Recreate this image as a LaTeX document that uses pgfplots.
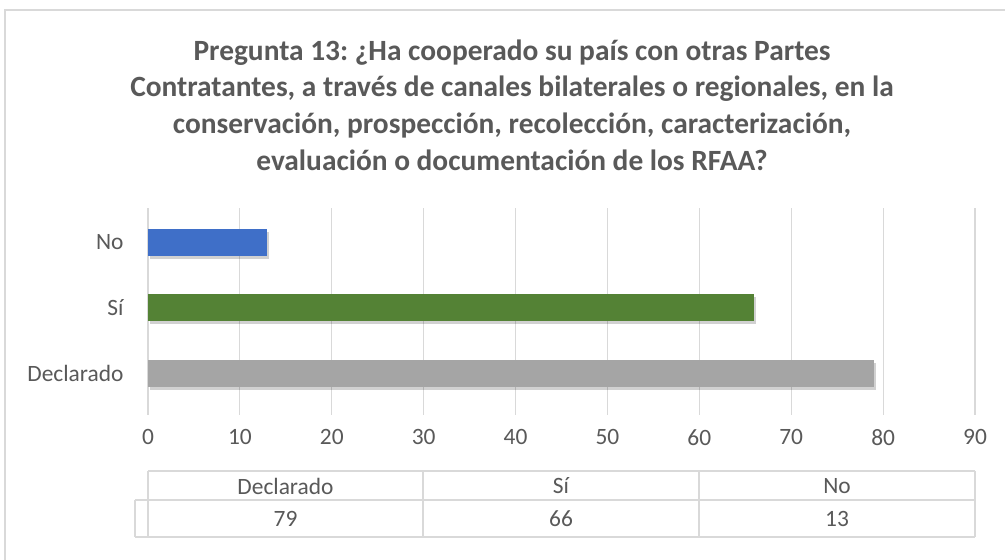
\documentclass[border=0pt]{standalone}
\usepackage{pgfplots}
\pgfplotsset{compat=1.18}
\usepackage{fontspec}
\setmainfont{Carlito}
\frenchspacing
\definecolor{txt}{HTML}{595959}
\definecolor{gridc}{HTML}{D9D9D9}
\definecolor{framec}{HTML}{D9D9D9}
\definecolor{cblue}{HTML}{3F6FC8}
\definecolor{cgreen}{HTML}{548235}
\definecolor{cgray}{HTML}{A5A5A5}
\begin{document}
\begin{tikzpicture}
\useasboundingbox (0bp,0bp) rectangle (1005bp,560bp);
\fill[white] (0bp,0bp) rectangle (1005bp,560bp);
\draw[framec, line width=1.5bp] (5bp,0bp) -- (5bp,550bp) -- (1005bp,550bp);
\node[font=\fontsize{29.5}{36.7}\selectfont\bfseries, text=txt, align=center] at (512bp,455bp)
 {Pregunta 13: ¿Ha cooperado su país con otras Partes\\
  Contratantes, a través de canales bilaterales o regionales, en la\\
  conservación, prospección, recolección, caracterización,\\
  evaluación o documentación de los RFAA?};
\begin{axis}[
  at={(148bp,145bp)}, anchor=south west,
  scale only axis, width=827bp, height=207bp,
  xmin=0, xmax=90, ymin=-0.64, ymax=2.52,
  xbar, bar width=27bp,
  xtick={0,10,...,90},
  ytick={0,1,2}, yticklabels={Declarado,Sí,No},
  xmajorgrids, grid style={draw=gridc, line width=1.2bp},
  axis line style={draw=none},
  major tick length=0pt,
  tick label style={font=\fontsize{23.5}{28}\selectfont, text=txt},
  /pgf/number format/assume math mode=true,
  xticklabel style={yshift=-11bp},
  yticklabel style={xshift=-21bp},
  clip=false,
]
\addplot[draw=none, fill=cgray, bar shift=0pt, preaction={fill=black, opacity=0.18, transform canvas={shift={(2bp,-3bp)}}}] coordinates {(79,0)};
\addplot[draw=none, fill=cgreen, bar shift=0pt, preaction={fill=black, opacity=0.18, transform canvas={shift={(2bp,-3bp)}}}] coordinates {(66,1)};
\addplot[draw=none, fill=cblue, bar shift=0pt, preaction={fill=black, opacity=0.18, transform canvas={shift={(2bp,-3bp)}}}] coordinates {(13,2)};
\end{axis}
% data table
\draw[gridc, line width=1.2bp] (148bp,89bp) -- (975bp,89bp);
\draw[gridc, line width=1.2bp] (135bp,60bp) -- (975bp,60bp);
\draw[gridc, line width=1.2bp] (135bp,23bp) -- (975bp,23bp);
\draw[gridc, line width=1.2bp] (148bp,89bp) -- (148bp,23bp);
\draw[gridc, line width=1.2bp] (135bp,60bp) -- (135bp,23bp);
\draw[gridc, line width=1.2bp] (423bp,89bp) -- (423bp,23bp);
\draw[gridc, line width=1.2bp] (699bp,89bp) -- (699bp,23bp);
\draw[gridc, line width=1.2bp] (975bp,89bp) -- (975bp,23bp);
\begin{scope}[every node/.style={font=\fontsize{23.5}{28}\selectfont, text=txt}]
\node at (285.5bp,74bp) {Declarado};
\node at (561bp,74bp) {Sí};
\node at (837bp,74bp) {No};
\node at (285.5bp,41bp) {79};
\node at (561bp,41bp) {66};
\node at (837bp,41bp) {13};
\end{scope}
\end{tikzpicture}
\end{document}
